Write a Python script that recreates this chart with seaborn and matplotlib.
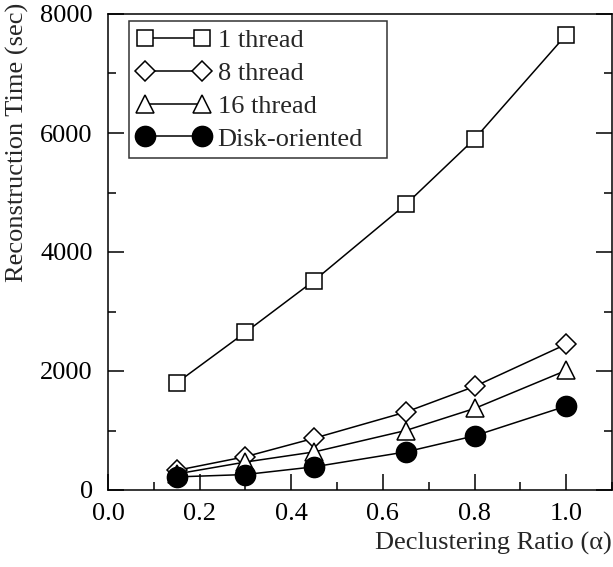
import numpy as np
import pandas as pd
import matplotlib
matplotlib.use("Agg")
import matplotlib.pyplot as plt
import seaborn as sns
from matplotlib.ticker import MultipleLocator

# Declustering ratio (alpha) values
ratios = [0.15, 0.30, 0.45, 0.65, 0.80, 1.00]

# Reconstruction time (sec) per configuration
one_thread = [1800, 2650, 3520, 4800, 5900, 7650]
eight_thread = [330, 560, 870, 1310, 1740, 2450]
sixteen_thread = [270, 470, 640, 1000, 1370, 2010]
disk_oriented = [220, 260, 390, 640, 910, 1410]

series_names = ["1 thread", "8 thread", "16 thread", "Disk-oriented"]
series_values = [one_thread, eight_thread, sixteen_thread, disk_oriented]

x_ticks = [0.0, 0.2, 0.4, 0.6, 0.8, 1.0]
y_ticks = [0, 2000, 4000, 6000, 8000]

rows = []
for name, vals in zip(series_names, series_values):
    for r, v in zip(ratios, vals):
        rows.append({"ratio": r, "time": v, "config": name})
df = pd.DataFrame(rows)

sns.set_theme(style="ticks")
plt.rcParams["font.family"] = ["Liberation Serif", "DejaVu Serif"]

W, H = 613, 567
fig = plt.figure(figsize=(W / 100, H / 100), dpi=100)
ax_l, ax_r, ax_t, ax_b = 108, 612, 14, 490
ax = fig.add_axes([ax_l / W, 1 - ax_b / H, (ax_r - ax_l) / W, (ax_b - ax_t) / H])

markers = {"1 thread": "s", "8 thread": "D", "16 thread": "^", "Disk-oriented": "o"}
sns.lineplot(data=df, x="ratio", y="time", style="config", markers=markers,
             dashes=False, color="black", ax=ax, legend=False, linewidth=1.1,
             style_order=series_names)

sizes = {"1 thread": 11, "8 thread": 10, "16 thread": 13, "Disk-oriented": 14.5}
for line, name in zip(ax.lines, series_names):
    line.set_markersize(sizes[name])
    line.set_markeredgewidth(1.1)
    line.set_markeredgecolor("black")
    line.set_markerfacecolor("black" if name == "Disk-oriented" else "white")
    line.set_label(name)

ax.set_xlim(0, 1.1)
ax.set_ylim(0, 8000)
ax.set_xticks(x_ticks)
ax.set_xticklabels([f"{t:.1f}" for t in x_ticks])
ax.set_yticks(y_ticks)
ax.set_yticklabels([str(t) for t in y_ticks])
ax.xaxis.set_minor_locator(MultipleLocator(0.1))
ax.yaxis.set_minor_locator(MultipleLocator(1000))
ax.tick_params(which="both", direction="in", right=True, top=False,
               labelsize=19, colors="black", width=1.1)
ax.tick_params(which="major", length=11.5)
ax.tick_params(which="minor", length=5.8)
ax.tick_params(axis="y", which="major", pad=11)
ax.tick_params(axis="x", which="major", pad=9)
for s in ax.spines.values():
    s.set_color("black")
    s.set_linewidth(1.1)

ax.set_xlabel("")
ax.set_ylabel("")
fig.text(612 / W, 1 - 543 / H, "Declustering Ratio (α)", ha="right",
         va="center", fontsize=19)
fig.text(17 / W, 1 - 142 / H, "Reconstruction Time (sec)", rotation=90,
         ha="center", va="center", fontsize=19)

aw, ah = ax_r - ax_l, ax_b - ax_t
leg_l, leg_r, leg_t = 129, 387, 21
leg = ax.legend(handles=ax.lines, labels=series_names, numpoints=2,
                loc="upper left", mode="expand",
                bbox_to_anchor=((leg_l - ax_l) / aw, 1 - (leg_t - ax_t) / ah,
                                (leg_r - leg_l) / aw, 0),
                borderaxespad=0, frameon=True, fancybox=False, fontsize=19,
                handlelength=2.76, handletextpad=0.3, labelspacing=0.35,
                borderpad=0.3)
leg.get_frame().set_edgecolor("black")
leg.get_frame().set_linewidth(1.1)

fig.savefig("out.png", dpi=100)
